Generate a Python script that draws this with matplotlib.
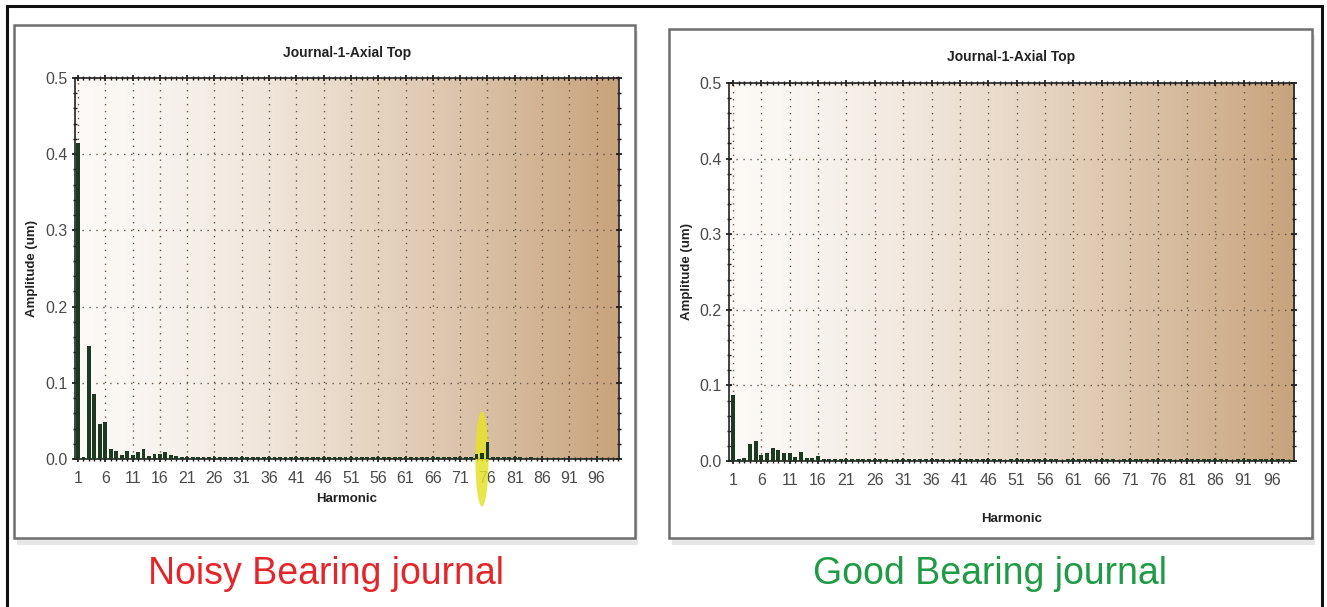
import matplotlib
matplotlib.use("Agg")
import matplotlib.pyplot as plt
import numpy as np
from matplotlib.patches import Rectangle, Ellipse
from matplotlib.ticker import MultipleLocator, FixedLocator

# harmonic amplitudes (um)
harmonics = np.arange(1, 100)

noisy_head = [0.415, 0.003, 0.148, 0.085, 0.046, 0.048, 0.013, 0.011, 0.005, 0.011,
              0.005, 0.009, 0.013, 0.004, 0.007, 0.007, 0.009, 0.005, 0.004, 0.003]
noisy_mid = [0.003, 0.002, 0.003, 0.002, 0.003, 0.002, 0.002, 0.003, 0.002, 0.002] * 5
noisy_tail = [0.002, 0.003, 0.003, 0.006, 0.008, 0.022, 0.003, 0.002, 0.002, 0.003,
              0.002, 0.002, 0.001, 0.002, 0.001, 0.001, 0.001, 0.001, 0.001, 0.001,
              0.001, 0.001, 0.001, 0.001, 0.001, 0.001, 0.001, 0.001, 0.001]
noisy = noisy_head + noisy_mid[:50] + noisy_tail
noisy = np.array((noisy + [0.001] * 99)[:99])

good_head = [0.087, 0.003, 0.004, 0.023, 0.027, 0.008, 0.010, 0.017, 0.014, 0.011,
             0.010, 0.005, 0.012, 0.004, 0.004, 0.007, 0.003, 0.003, 0.003, 0.002]
good_rest = [0.002, 0.003, 0.002, 0.002, 0.002, 0.003, 0.002, 0.002, 0.001, 0.002] * 8
good = np.array((good_head + good_rest)[:99])

title = "Journal-1-Axial Top"
ylabel = "Amplitude (um)"
xlabel = "Harmonic"
captions = ["Noisy Bearing journal", "Good Bearing journal"]
caption_colors = ["#e3262a", "#1f9b45"]

sans = ["Liberation Sans", "DejaVu Sans"]

fig = plt.figure(figsize=(13.27, 6.07), dpi=100)
W, H = 1327, 607

def px(x0, y0, x1, y1):
    # pixel box (top-left origin) -> figure fraction rect
    return [x0 / W, 1 - y1 / H, (x1 - x0) / W, (y1 - y0) / H]

# outer frame
fig.patches.append(Rectangle((7 / W, -0.01), 1315 / W, 1.01 - 6 / H, transform=fig.transFigure,
                             fill=False, lw=2.2, ec="#111111"))
# panel boxes with soft shadow
for box in [(14, 25, 635, 538), (669, 29, 1312, 538)]:
    x0, y0, x1, y1 = box
    r = px(x0 + 3, y0 + 6, x1 + 3, y1 + 7)
    fig.patches.append(Rectangle((r[0], r[1]), r[2], r[3], transform=fig.transFigure,
                                 fc="#e6e6e6", ec="none", zorder=0))
    r = px(*box)
    fig.patches.append(Rectangle((r[0], r[1]), r[2], r[3], transform=fig.transFigure,
                                 fc="white", ec="#6e6e6e", lw=1.8, zorder=1))

# background gradient: near white -> tan
t = np.linspace(0, 1, 256) ** 1.4
c0 = np.array([252, 249, 246]) / 255
c1 = np.array([200, 163, 124]) / 255
grad = (c0[None, :] * (1 - t[:, None]) + c1[None, :] * t[:, None])[None, :, :]

axes_rects = [px(75, 78, 619, 459), px(729, 83, 1294, 461)]
xlims = [(0.45, 100.1), (0.3, 99.9)]
series = [noisy, good]
title_y = [1.055, 1.058]
ylabel_x = [-0.068, -0.064]
xlabel_y = [-0.089, -0.137]

for i in range(2):
    ax = fig.add_axes(axes_rects[i])
    ax.set_zorder(2)
    ax.imshow(grad, extent=[0, 1, 0, 1], transform=ax.transAxes, aspect="auto", zorder=0)
    ax.bar(harmonics, series[i], width=0.7, color="#1c3a22", zorder=3)
    ax.set_xlim(*xlims[i])
    ax.set_ylim(0, 0.5)
    ax.xaxis.set_major_locator(FixedLocator(np.arange(1, 100, 5)))
    ax.xaxis.set_minor_locator(MultipleLocator(1))
    ax.yaxis.set_major_locator(MultipleLocator(0.1))
    ax.yaxis.set_minor_locator(MultipleLocator(0.02))
    ax.yaxis.set_major_formatter(matplotlib.ticker.FormatStrFormatter("%.1f"))
    ax.grid(True, which="major", color="#6b5a4a", lw=1.0, ls=(0, (1, 4)), zorder=1)
    ax.tick_params(which="both", direction="inout", top=True, right=True, color="#111111")
    ax.tick_params(which="major", length=5, width=1.2, labelsize=11.5, labelcolor="#4a4a4a")
    ax.tick_params(which="minor", length=3, width=1.0)
    ax.tick_params(axis="x", which="major", pad=6)
    ax.tick_params(axis="y", which="major", pad=3)
    ax.tick_params(top=True, labeltop=False, right=True, labelright=False)
    for lab in ax.get_xticklabels() + ax.get_yticklabels():
        lab.set_family(sans)
    for s in ax.spines.values():
        s.set_color("#222222")
        s.set_linewidth(1.2)
    ax.set_title(title, fontsize=10, fontweight="bold", family=sans, color="#222222",
                 y=title_y[i], pad=0)
    ax.set_ylabel(ylabel, fontsize=9.5, fontweight="bold", family=sans, color="#222222")
    ax.yaxis.set_label_coords(ylabel_x[i], 0.5)
    ax.set_xlabel(xlabel, fontsize=9.5, fontweight="bold", family=sans, color="#222222")
    ax.xaxis.set_label_coords(0.5, xlabel_y[i])

    if i == 0:
        # yellow highlighter over harmonic 75, under the bar
        ax.add_patch(Ellipse((75, 0.0), 2.4, 0.125, fc="#e6e22a", ec="none", alpha=0.85,
                             clip_on=False, zorder=2.8))

fig.text(326 / W, 1 - 574 / H, captions[0], color=caption_colors[0], fontsize=27,
         family=sans, ha="center", va="center")
fig.text(990 / W, 1 - 574 / H, captions[1], color=caption_colors[1], fontsize=27,
         family=sans, ha="center", va="center")

fig.savefig("out.png", dpi=100)
